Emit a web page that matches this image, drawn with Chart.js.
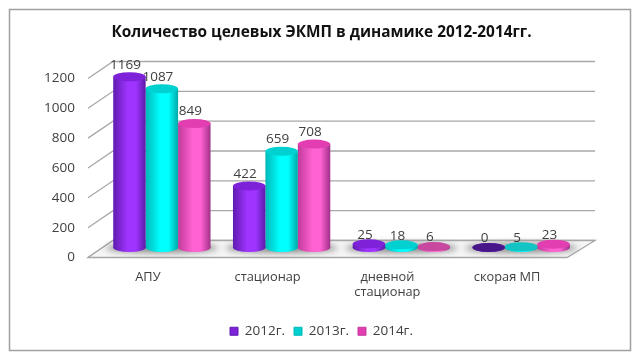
<!DOCTYPE html>
<html>
<head>
<meta charset="utf-8">
<title>ЭКМП 2012-2014</title>
<script src="https://cdn.jsdelivr.net/npm/chart.js@4"></script>
<style>
  html, body { margin: 0; padding: 0; background: #fff; }
  canvas { display: block; filter: blur(0.35px); }
</style>
</head>
<body>
<canvas id="chart" width="643" height="363"></canvas>
<script>
/* Количество целевых ЭКМП: псевдо-3D цилиндры поверх обычного bar chart */

const categories = ['АПУ', 'стационар', ['дневной', 'стационар'], 'скорая МП'];
const seriesNames = ['2012г.', '2013г.', '2014г.'];
const values2012 = [1169, 422, 25, 0];
const values2013 = [1087, 659, 18, 5];
const values2014 = [849, 708, 6, 23];
const yTicks = [0, 200, 400, 600, 800, 1000, 1200];

// цвета цилиндров: край, центр, край, крышка, крышка при малом значении
const shades = [
  { left: '#5f1cb0', mid: '#a034ff', right: '#5a1aa8', cap: '#7d22d8', low: '#47178a' },
  { left: '#00b8b8', mid: '#00ffff', right: '#00a8a8', cap: '#00d0d0', low: '#12c4c4' },
  { left: '#c23a9c', mid: '#ff62d2', right: '#a03088', cap: '#e23eb2', low: '#c8479f' }
];

const depth = { x: 25, y: -17 };    // смещение задней стенки
const barShift = { x: 14, y: -10 }; // цилиндры стоят в середине пола
const capRy = 4.5;
const catPercent = 0.8125;
const textColor = '#404040';
const gridColor = '#a8a8a8';

function bodyGradient(c) {
  const s = shades[c.datasetIndex];
  const x = c.chart.scales.x;
  if (!x || c.dataIndex === undefined) return s.mid;
  const w = (x.getPixelForValue(1) - x.getPixelForValue(0)) * catPercent / 3;
  const cx = x.getPixelForValue(c.dataIndex) + (c.datasetIndex - 1) * w;
  const g = c.chart.ctx.createLinearGradient(cx - w / 2, 0, cx + w / 2, 0);
  g.addColorStop(0, s.left);
  g.addColorStop(0.45, s.mid);
  g.addColorStop(0.7, s.mid);
  g.addColorStop(1, s.right);
  return g;
}

const plugin3d = {
  id: 'plugin3d',
  beforeDraw(chart) {
    const ctx = chart.ctx;
    const a = chart.chartArea;
    const y = chart.scales.y;
    ctx.save();
    ctx.fillStyle = '#fff';
    ctx.fillRect(0, 0, chart.width, chart.height);
    ctx.strokeStyle = '#a0a0a0';
    ctx.lineWidth = 1.5;
    ctx.strokeRect(9.5, 9.5, 621, 341);

    // сетка: диагональ боковой стенки и линия задней стенки
    ctx.strokeStyle = gridColor;
    ctx.lineWidth = 1.3;
    yTicks.forEach(function (t) {
      const py = y.getPixelForValue(t);
      ctx.beginPath();
      ctx.moveTo(a.left, py);
      ctx.lineTo(a.left + depth.x, py + depth.y);
      ctx.lineTo(a.right + depth.x + 3, py + depth.y);
      ctx.stroke();
    });

    // пол
    const base = y.getPixelForValue(0);
    ctx.beginPath();
    ctx.moveTo(a.left, base);
    ctx.lineTo(a.left + depth.x, base + depth.y);
    ctx.lineTo(a.right + depth.x + 3, base + depth.y);
    ctx.lineTo(a.right, base);
    ctx.closePath();
    ctx.fillStyle = '#f6f6f6';
    ctx.fill();
    ctx.stroke();

    // тени под группами
    const x = chart.scales.x;
    ctx.filter = 'blur(3px)';
    ctx.fillStyle = '#8c8c8c';
    categories.forEach(function (cat, i) {
      const cx = x.getPixelForValue(i) + barShift.x;
      ctx.beginPath();
      ctx.ellipse(cx, base + barShift.y + 0.5, 56, 5, 0, 0, Math.PI * 2);
      ctx.fill();
    });
    ctx.restore();
  },
  beforeDatasetsDraw(chart) {
    chart.ctx.save();
    chart.ctx.translate(barShift.x, barShift.y);
  },
  beforeDatasetDraw(chart, args) {
    const ctx = chart.ctx;
    args.meta.data.forEach(function (bar, i) {
      ctx.fillStyle = bodyGradient({ chart: chart, datasetIndex: args.index, dataIndex: i });
      ctx.beginPath();
      ctx.ellipse(bar.x, bar.base, bar.width / 2, capRy, 0, 0, Math.PI * 2);
      ctx.fill();
    });
  },
  afterDatasetDraw(chart, args) {
    const ctx = chart.ctx;
    const s = shades[args.index];
    const data = chart.data.datasets[args.index].data;
    args.meta.data.forEach(function (bar, i) {
      ctx.fillStyle = data[i] < 10 ? s.low : s.cap;
      ctx.beginPath();
      ctx.ellipse(bar.x, bar.y, bar.width / 2, capRy, 0, 0, Math.PI * 2);
      ctx.fill();
    });
  },
  afterDatasetsDraw(chart) {
    const ctx = chart.ctx;
    // подписи значений
    ctx.fillStyle = textColor;
    ctx.font = '13.5px "Open Sans"';
    ctx.textAlign = 'center';
    ctx.textBaseline = 'middle';
    chart.data.datasets.forEach(function (ds, d) {
      chart.getDatasetMeta(d).data.forEach(function (bar, i) {
        const up = ds.data[i] > 100 ? 12 : 9;
        ctx.fillText(String(ds.data[i]), bar.x - 4, bar.y - up);
      });
    });
    ctx.restore();
  }
};

new Chart(document.getElementById('chart'), {
  type: 'bar',
  data: {
    labels: categories,
    datasets: [values2012, values2013, values2014].map(function (vals, i) {
      return {
        label: seriesNames[i],
        data: vals,
        yAxisID: 'yBars',
        backgroundColor: bodyGradient,
        borderWidth: 0,
        categoryPercentage: catPercent,
        barPercentage: 1,
        clip: false
      };
    })
  },
  plugins: [plugin3d],
  options: {
    responsive: false,
    animation: false,
    layout: { padding: { left: 0, right: 0, top: 0, bottom: 15 } },
    plugins: {
      tooltip: { enabled: false },
      title: {
        display: true,
        text: 'Количество целевых ЭКМП в динамике 2012-2014гг.',
        color: '#111',
        font: { family: 'Open Sans', size: 15.4, weight: 'bold' },
        padding: { top: 23, bottom: 37 }
      },
      legend: {
        position: 'bottom',
        onClick: null,
        labels: {
          color: textColor,
          font: { family: 'Open Sans', size: 13.5 },
          boxWidth: 8,
          boxHeight: 8,
          padding: 9,
          generateLabels: function () {
            return seriesNames.map(function (name, i) {
              return {
                text: name,
                fillStyle: shades[i].cap,
                strokeStyle: shades[i].left,
                lineWidth: 1,
                datasetIndex: i,
                fontColor: textColor
              };
            });
          }
        }
      }
    },
    scales: {
      x: {
        grid: { display: false },
        border: { display: false },
        ticks: {
          color: textColor,
          maxRotation: 0,
          autoSkip: false,
          padding: 4,
          font: { family: 'Open Sans', size: 12.8 }
        },
        afterFit: function (s) { s.height = 58; }
      },
      y: {
        min: 0,
        max: 1200,
        grid: { display: false, drawTicks: false },
        border: { display: false },
        ticks: {
          color: textColor,
          stepSize: 200,
          padding: 13,
          font: { family: 'Open Sans', size: 13.5 },
          callback: function (v) { return String(v); }
        },
        afterFit: function (s) { s.width = 88; }
      },
      // цилиндры чуть ниже по перспективе, чем шкала на передней кромке;
      // ось справа держит поле 76 px, заголовок при этом по центру холста
      yBars: {
        position: 'right',
        min: 0,
        max: 1226,
        grid: { display: false },
        border: { display: false },
        ticks: { display: false },
        afterFit: function (s) { s.width = 76; }
      }
    }
  }
});
</script>
</body>
</html>
